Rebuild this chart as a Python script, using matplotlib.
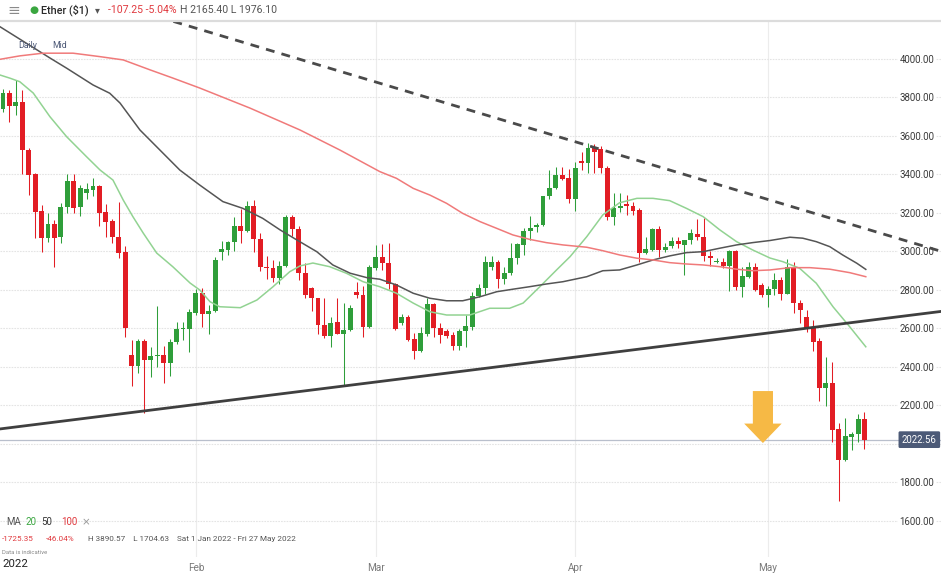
import numpy as np
import pandas as pd
import matplotlib
matplotlib.use('Agg')
import matplotlib.pyplot as plt
import matplotlib.dates as mdates
import matplotlib.transforms as mtrans
from matplotlib.patches import FancyArrowPatch

plt.rcParams['font.family'] = ['Roboto', 'DejaVu Sans']

# daily Ether ($1) candles, 1 Jan 2022 - 16 May 2022
dates = pd.date_range('2022-01-01', '2022-05-16', freq='D')
opens = [3690, 3740, 3822, 3756, 3777, 3527, 3403, 3210, 3070, 3143, 3075, 3231, 3366, 3231, 3304, 3320,
         3340, 3205, 3158, 3075, 2997, 2461, 2405, 2535, 2436, 2457, 2462, 2421, 2530, 2597, 2597,
         2680, 2786, 2674, 2690, 2997, 3008, 3049, 3132, 3108, 3238, 3064, 2918, 2914, 2862, 2925, 3179,
         3117, 2888, 2810, 2758, 2618, 2561, 2636, 2571, 2592, 2790, 2774, 2609,
         2914, 2971, 2942, 2829, 2630, 2658, 2544, 2483, 2571, 2727, 2601, 2587, 2565, 2509, 2587, 2609,
         2770, 2809, 2918, 2944, 2857, 2887, 2966, 3034, 3106, 3129, 3139, 3288, 3328, 3396, 3380,
         3271, 3470, 3458, 3536, 3531, 3435, 3181, 3224, 3245, 3238, 3215, 2994, 3008, 3117, 3008, 3030,
         3054, 3034, 3060, 3089, 3077, 2977, 2945, 2947, 2925, 3004, 2814, 2869, 2921, 2826,
         2774, 2804, 2852, 2779, 2921, 2731, 2658, 2601, 2535, 2290, 2315, 2076, 1917, 2038, 2052, 2130]
highs = [3760, 3844, 3838, 3890, 3838, 3536, 3410, 3241, 3200, 3164, 3252, 3403, 3403, 3345, 3356, 3382,
         3345, 3247, 3169, 3257, 3029, 2540, 2545, 2545, 2504, 2717, 2509, 2545, 2634, 2634, 2701,
         2806, 2810, 2722, 2971, 3054, 3054, 3179, 3221, 3264, 3268, 3095, 2977, 2956, 2950, 3190, 3190,
         3130, 2940, 2815, 2758, 2758, 2661, 2758, 2732, 2722, 2843, 2821, 2930,
         3034, 3039, 3044, 2835, 2677, 2670, 2577, 2609, 2758, 2730, 2627, 2597, 2580, 2597, 2670, 2790,
         2830, 2977, 2977, 2955, 2921, 3044, 3044, 3120, 3184, 3150, 3290, 3423, 3437, 3437, 3430,
         3467, 3519, 3565, 3558, 3547, 3445, 3302, 3302, 3293, 3259, 3225, 3077, 3120, 3130, 3043, 3077,
         3077, 3060, 3115, 3167, 3172, 3003, 2966, 2966, 3008, 3010, 2920, 2947, 2940, 2838,
         2820, 2887, 2870, 2960, 2947, 2748, 2696, 2644, 2550, 2454, 2428, 2110, 2133, 2060, 2156, 2165.4]
lows = [3680, 3725, 3673, 3709, 3403, 3293, 3070, 2997, 3050, 2920, 3045, 3200, 3200, 3184, 3273, 3288,
        3132, 3075, 3044, 2966, 2556, 2301, 2369, 2161, 2348, 2400, 2317, 2353, 2520, 2540, 2478,
        2670, 2609, 2571, 2685, 2956, 2980, 3002, 3046, 3100, 2999, 2900, 2857, 2840, 2830, 2920, 3080,
        2852, 2758, 2692, 2571, 2550, 2504, 2571, 2306, 2585, 2757, 2556, 2600,
        2905, 2905, 2805, 2590, 2620, 2535, 2441, 2478, 2560, 2557, 2525, 2550, 2488, 2488, 2505, 2590,
        2765, 2780, 2905, 2810, 2830, 2880, 2935, 2982, 3060, 3103, 3130, 3275, 3325, 3370, 3254,
        3210, 3423, 3406, 3406, 3410, 3164, 3138, 3207, 3190, 3190, 2947, 2985, 3000, 2973, 2999, 3020,
        3020, 2878, 3040, 3060, 2952, 2925, 2940, 2915, 2796, 2800, 2762, 2860, 2795, 2765,
        2713, 2774, 2748, 2779, 2682, 2630, 2583, 2485, 2225, 2197, 2012, 1704.6, 1910, 1969, 2012, 1976.1]
closes = [3740, 3822, 3756, 3777, 3527, 3397, 3205, 3070, 3143, 3070, 3231, 3366, 3226, 3330, 3325, 3340,
          3200, 3153, 3075, 2992, 2603, 2405, 2535, 2436, 2457, 2462, 2421, 2530, 2597, 2600, 2686,
          2786, 2674, 2690, 2956, 3013, 3049, 3132, 3108, 3238, 3065, 2918, 2912, 2862, 2925, 3179, 3117,
          2888, 2774, 2758, 2618, 2561, 2630, 2571, 2592, 2706, 2774, 2609, 2919,
          2971, 2942, 2829, 2597, 2658, 2540, 2483, 2575, 2727, 2601, 2566, 2561, 2509, 2587, 2613, 2770,
          2809, 2947, 2944, 2857, 2887, 2966, 3037, 3106, 3122, 3139, 3288, 3328, 3396, 3375, 3271,
          3435, 3458, 3536, 3519, 3432, 3178, 3224, 3238, 3236, 3212, 2994, 3011, 3117, 3008, 3025, 3054,
          3037, 3060, 3094, 3075, 2977, 2965, 2950, 2925, 3004, 2817, 2873, 2921, 2800, 2774,
          2804, 2852, 2779, 2921, 2734, 2696, 2601, 2531, 2290, 2315, 2073, 1917, 2041, 2052, 2130, 2022.56]

# moving averages (days after 1 Jan, price)
ma20_days = [0.5, 2.1, 3.6, 5.7, 8.3, 10.9, 14.0, 16.1, 18.1, 19.7, 21.2, 22.8, 24.9, 27.4, 30.1, 31.6,
             33.2, 34.7, 37.9, 40.5, 43.0, 45.6, 47.2, 49.2, 51.8, 54.4, 57.0, 59.6, 62.2, 64.8, 67.4,
             70.0, 73.6, 76.7, 79.8, 81.9, 84.5, 87.1, 89.2, 91.8, 94.3, 96.9, 99.6, 102.1, 104.7, 107.3,
             109.9, 112.5, 115.1, 117.6, 120.3, 122.3, 124.9, 127.5, 130.1, 132.7, 135.2]
ma20_vals = [3917, 3900, 3882, 3823, 3700, 3596, 3492, 3423, 3371, 3267, 3181, 3096, 2992, 2921, 2836, 2800,
             2739, 2713, 2708, 2748, 2817, 2895, 2925, 2940, 2921, 2887, 2843, 2817, 2783, 2732, 2687,
             2670, 2670, 2705, 2705, 2732, 2817, 2904, 2973, 3077, 3190, 3253, 3276, 3276, 3264, 3224,
             3181, 3112, 3051, 3008, 2966, 2947, 2913, 2835, 2713, 2609, 2505]
ma50_days = [0.5, 8.3, 10.9, 15.0, 17.6, 19.2, 22.3, 25.4, 28.5, 31.6, 35.2, 38.3, 41.4, 44.1, 46.7, 49.8,
             52.3, 55.0, 57.6, 59.6, 62.2, 64.8, 67.4, 70.0, 72.5, 75.2, 77.8, 80.3, 82.9, 85.5, 88.1,
             91.8, 94.3, 96.9, 99.6, 102.1, 104.7, 107.3, 109.9, 112.5, 115.1, 117.6, 120.3, 123.4, 125.4,
             127.5, 129.6, 131.6, 133.8, 135.2]
ma50_vals = [4168, 4005, 3952, 3865, 3822, 3771, 3631, 3527, 3423, 3345, 3259, 3224, 3172, 3112, 3060, 2999,
             2930, 2887, 2864, 2856, 2826, 2783, 2757, 2744, 2744, 2765, 2791, 2804, 2817, 2831, 2843,
             2869, 2900, 2904, 2930, 2956, 2977, 2994, 2999, 3017, 3034, 3046, 3057, 3074, 3069,
             3051, 3025, 2982, 2939, 2907]
ma100_days = [0.5, 3.6, 7.2, 11.9, 16.1, 19.7, 23.9, 27.4, 31.6, 39.4, 47.2, 53.4, 59.6, 62.2, 64.8, 67.4,
              70.0, 72.5, 75.2, 77.8, 80.3, 82.9, 85.5, 88.1, 91.8, 94.3, 96.9, 99.6, 102.1, 104.7, 107.3,
              109.9, 112.5, 115.1, 117.6, 120.3, 123.4, 126.5, 129.6, 132.7, 135.2]
ma100_vals = [3998, 4016, 4030, 4030, 4012, 3995, 3943, 3901, 3849, 3745, 3631, 3527, 3415, 3380, 3328, 3293,
              3250, 3198, 3155, 3120, 3086, 3063, 3046, 3034, 3022, 3004, 2982, 2965, 2956, 2942, 2935,
              2930, 2921, 2908, 2900, 2904, 2916, 2916, 2908, 2890, 2869]

# hand-drawn trend lines (days after 1 Jan, price)
resist_days = [27.5, 147]
resist_vals = [4195, 3000]
support_days = [0, 147]
support_vals = [2076, 2689]

# header / footer text
header_change = '-107.25 -5.04%'
header_hl = 'H 2165.40 L 1976.10'
period_change = ['-1725.35', '-46.04%']
period_info = 'H 3890.57    L 1704.63    Sat 1 Jan 2022 - Fri 27 May 2022'

W, H = 941, 575
fig = plt.figure(figsize=(W / 100, H / 100), dpi=100)
ax = fig.add_axes([0, 1 - 557 / H, 1, (557 - 22) / H])

x = mdates.date2num(dates)
x0 = x[0]
o = np.array(opens, float)
h = np.array(highs, float)
l = np.array(lows, float)
c = np.array(closes, float)
up = c >= o
green, red = '#2f9e3a', '#e21d24'
cols = np.where(up, green, red)

ax.vlines(x, l, h, colors=cols, lw=0.75, zorder=3)
body = np.maximum(np.abs(c - o), 6)
ax.bar(x, body, bottom=np.minimum(o, c), width=0.76, color=cols, zorder=4, linewidth=0)

ax.plot(x0 + np.array(ma20_days), ma20_vals, color='#92d392', lw=1.1, zorder=5)
ax.plot(x0 + np.array(ma50_days), ma50_vals, color='#555555', lw=1.1, zorder=5)
ax.plot(x0 + np.array(ma100_days), ma100_vals, color='#f07a7a', lw=1.1, zorder=5)

ax.plot(x0 + np.array(resist_days), resist_vals, color='#4a4a4a', lw=2.0,
        linestyle=(0, (3.2, 2.6)), zorder=6)
ax.plot(x0 + np.array(support_days), support_vals, color='#3f3f3f', lw=2.0, zorder=6)

# last price line and tag
last = closes[-1]
ax.axhline(last, color='#b9bfcc', lw=0.9, zorder=2)
blend = mtrans.blended_transform_factory(ax.transAxes, ax.transData)
ax.text(0.9955, last, f'{last:.2f}', transform=blend, ha='right', va='center', color='white',
        fontsize=6.9, zorder=10,
        bbox=dict(boxstyle='round,pad=0.35,rounding_size=0.15', fc='#4c5a77', ec='none'))

# orange arrow
arr = FancyArrowPatch((x0 + 119.2, 2275), (x0 + 119.2, 2005),
                      arrowstyle='simple,head_width=27,head_length=14,tail_width=14.5',
                      mutation_scale=1, color='#f6b945', lw=0, zorder=7, shrinkA=0, shrinkB=0)
ax.add_patch(arr)

ax.set_xlim(x0 + 0.53, x0 + 146.9)
ax.set_ylim(1413, 4192)

# tick labels hidden where the price tag sits
ax.set_yticks(np.arange(1600, 4001, 200))
ax.yaxis.set_major_formatter(plt.FuncFormatter(lambda v, p: '' if abs(v - last) < 40 else f'{v:.2f}'))
ax.yaxis.tick_right()
ax.tick_params(axis='y', length=0, pad=-5, labelsize=6.9, labelcolor='#3a3a3a')
for lbl in ax.get_yticklabels():
    lbl.set_horizontalalignment('right')
    lbl.set_bbox(dict(fc='white', ec='none', pad=1.2))

ax.xaxis.set_major_locator(mdates.MonthLocator(bymonth=[2, 3, 4, 5]))
ax.xaxis.set_major_formatter(mdates.DateFormatter('%b'))
ax.tick_params(axis='x', length=0, pad=4, labelsize=7.2, labelcolor='#7a7a7a')

ax.grid(axis='y', color='#e4e4e4', linestyle=(0, (1.5, 1)), lw=0.8, zorder=0)
ax.grid(axis='x', color='#ececec', linestyle='-', lw=0.8, zorder=0)
for s in ax.spines.values():
    s.set_visible(False)


def ftxt(px, py, s, **kw):
    fig.text(px / W, 1 - py / H, s, va='center', **kw)


# header
fig.add_artist(plt.Line2D([0, 1], [1 - 21 / H, 1 - 21 / H], color='#dcdcdc', lw=1.6))
ftxt(7, 10, '≡', fontsize=11, color='#8a8a8a', family='DejaVu Sans')
ftxt(29, 10.5, '●', fontsize=7.5, color='#3aa640', family='DejaVu Sans')
ftxt(41, 10, 'Ether ($1)', fontsize=7.8, color='#2b2b2b', fontweight='medium')
ftxt(95, 10.5, '▾', fontsize=7, color='#555555', family='DejaVu Sans')
ftxt(108, 10, header_change, fontsize=7.6, color='#e0393e')
ftxt(180, 10, header_hl, fontsize=7.6, color='#555555')

ftxt(18, 45, 'Daily', fontsize=6.3, color='#4e5a78')
ftxt(52, 45, 'Mid', fontsize=6.3, color='#4e5a78')

# footer legend
ftxt(6, 522, 'MA', fontsize=7, color='#555555')
ftxt(26, 522, '20', fontsize=7, color='#3aa640')
ftxt(41, 522, '50', fontsize=7, color='#333333')
ftxt(61, 522, '100', fontsize=7, color='#e0393e')
ftxt(82, 522, '×', fontsize=7.5, color='#999999', family='DejaVu Sans')
ftxt(2, 539, period_change[0], fontsize=5.9, color='#e0393e')
ftxt(46, 539, period_change[1], fontsize=5.9, color='#e0393e')
ftxt(88, 539, period_info, fontsize=5.9, color='#555555')
ftxt(2, 553, 'Data is indicative', fontsize=4.2, color='#888888')
ftxt(2, 564, '2022', fontsize=8.2, color='#222222')

fig.savefig('out.png', dpi=100)
